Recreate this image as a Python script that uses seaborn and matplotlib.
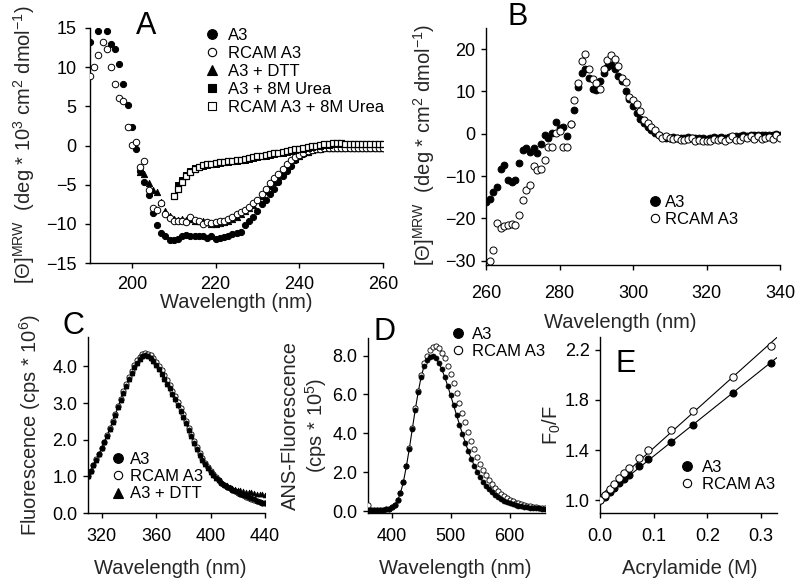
import numpy as np
import seaborn as sns
import matplotlib.pyplot as plt
from matplotlib.lines import Line2D

# ---------------- data ----------------
# A: far-UV CD, [theta]MRW in deg*10^3 cm2 dmol-1
cd_wl_a3 = [190, 192, 194] + list(range(195, 261))
cd_a3 = [13.2, 14.6, 14.6,
         12.9, 12.3, 10.4, 7.9, 5.2, 2.4, -0.4, -3.3, -4.6, -6.3,
         -8.6, -10.1, -11.2, -11.6, -12.0, -12.1, -11.9, -11.5, -11.4, -11.6,
         -11.6, -11.5, -11.6, -11.8, -11.6, -11.9, -11.8, -11.7, -11.5, -11.3,
         -11.2, -11.0, -10.2, -9.6, -9.1, -8.3, -7.5, -6.9, -6.2, -5.5,
         -4.7, -3.9, -3.2, -2.6, -1.9, -1.4, -1.1, -0.8, -0.6, -0.5,
         -0.4, -0.3, -0.3, -0.3, -0.3, -0.3, -0.3, -0.3, -0.3, -0.3,
         -0.3, -0.3, -0.3, -0.3, -0.3, -0.3]
cd_wl_rcam = list(range(190, 261))
cd_rcam = [8.9, 10.0, 11.6, 13.2, 12.3, 10.0, 7.9, 6.1, 5.7, 2.3,
           0.1, 0.5, -2.8, -2.0, -5.7, -8.0, -8.2, -7.3, -8.8, -9.3,
           -9.6, -9.7, -9.6, -9.8, -9.1, -9.5, -9.7, -10.0, -9.8, -9.9,
           -9.8, -9.7, -9.6, -9.4, -9.1, -8.8, -8.5, -8.2, -7.9, -7.4,
           -6.9, -6.2, -5.5, -4.8, -4.2, -3.6, -3.0, -2.4, -1.9, -1.5,
           -1.2, -0.9, -0.7, -0.6, -0.5, -0.4, -0.3, -0.3, -0.3, -0.3,
           -0.3, -0.3, -0.3, -0.3, -0.3, -0.3, -0.3, -0.3, -0.3, -0.3, -0.3]
cd_wl_dtt = list(range(202, 261))
cd_dtt = [-3.4, -3.7, -4.8, -5.7, -5.9, -7.2, -8.3, -9.0, -9.4, -9.5,
          -9.4, -9.5, -9.4, -9.6, -9.7, -9.7, -9.8, -10.0, -10.0, -9.9,
          -9.8, -9.6, -9.4, -9.1, -8.8, -8.4, -8.0, -7.6, -7.0, -6.4,
          -5.8, -5.2, -4.6, -4.0, -3.4, -2.8, -2.2, -1.7, -1.3, -1.0,
          -0.8, -0.6, -0.5, -0.4, -0.3, -0.3, -0.3, -0.3, -0.3, -0.3,
          -0.3, -0.3, -0.3, -0.3, -0.3, -0.3, -0.3, -0.3, -0.3]
cd_wl_urea = list(range(211, 261))
cd_urea = [-5.0, -4.4, -3.8, -3.3, -2.9, -2.7, -2.6, -2.5, -2.4, -2.3,
           -2.2, -2.15, -2.1, -2.0, -1.95, -1.9, -1.8, -1.7, -1.6, -1.5,
           -1.4, -1.3, -1.2, -1.1, -1.0, -0.9, -0.8, -0.7, -0.6, -0.5,
           -0.4, -0.3, -0.2, -0.1, 0.0, 0.1, 0.1, 0.2, 0.2, 0.2,
           0.15, 0.15, 0.15, 0.15, 0.15, 0.15, 0.15, 0.15, 0.15, 0.15]
cd_wl_rcam_urea = list(range(210, 261))
cd_rcam_urea = [-6.5, -5.5, -4.6, -3.9, -3.4, -3.0, -2.7, -2.5, -2.4, -2.3,
                -2.2, -2.1, -2.05, -2.0, -1.95, -1.9, -1.8, -1.7, -1.6, -1.5,
                -1.4, -1.3, -1.2, -1.1, -1.0, -0.9, -0.8, -0.7, -0.6, -0.5,
                -0.4, -0.3, -0.2, -0.1, 0.0, 0.1, 0.2, 0.2, 0.3, 0.3,
                0.3, 0.2, 0.2, 0.2, 0.2, 0.2, 0.2, 0.2, 0.2, 0.2, 0.2]

# B: near-UV CD
nuv_wl_a3 = list(range(260, 341))
nuv_a3 = [-16.2, -15.5, -13.7, -12.5, -8.4, -7.4, -10.9, -11.4, -10.9, -6.8,
          -3.8, -3.4, -4.2, -3.4, -4.5, -2.5, -0.3, -1.1, 0.1, 2.9,
          1.3, 1.7, -0.5, 2.4, 5.6, 11.1, 14.3, 15.2, 13.1, 10.7,
          10.3, 12.5, 14.3, 15.8, 16.2, 15.2, 13.6, 12.5, 10.2, 8.2,
          6.6, 4.9, 3.6, 2.5, 1.6, 0.9, 0.3, -0.3, -0.7, -0.9,
          -1.0, -0.8, -1.0, -1.1, -0.9, -0.8, -1.0, -1.1, -0.9, -1.0,
          -1.2, -0.9, -0.8, -1.0, -0.8, -0.9, -0.7, -0.8, -0.6, -0.5,
          -0.4, -0.5, -0.3, -0.4, -0.2, -0.3, -0.2, -0.4, -0.2, -0.1,
          -0.3]
nuv_wl_rcam = list(range(261, 341))
nuv_rcam = [-30.0, -27.5, -21.0, -22.2, -21.8, -21.5, -21.4, -21.5, -19.1, -15.7,
            -13.3, -12.2, -7.5, -8.5, -8.2, -6.3, -3.2, -3.2, 0.1, 0.7,
            -3.2, -3.0, 2.2, 8.1, 11.9, 17.2, 18.8, 15.4, 12.9, 12.1,
            10.5, 15.2, 17.4, 18.6, 17.6, 16.0, 13.3, 12.3, 8.8, 8.0,
            7.0, 5.5, 3.3, 2.6, 1.5, 0.8, -0.2, -1.0, -0.6, -1.0,
            -1.2, -1.1, -1.5, -1.4, -1.2, -1.1, -1.6, -1.4, -1.8, -1.6,
            -1.7, -1.2, -1.4, -1.3, -1.6, -1.2, -0.6, -1.4, -1.4, -0.8,
            -0.9, -0.6, -1.3, -0.5, -1.2, -1.1, -0.8, -1.2, -0.4, -1.0]

# C: intrinsic fluorescence (cps * 10^6)
fl_wl = list(range(310, 441, 2))
fl_a3 = [1.00, 1.15, 1.30, 1.45, 1.60, 1.76, 1.93, 2.10, 2.29, 2.48,
         2.68, 2.88, 3.08, 3.28, 3.47, 3.65, 3.82, 3.97, 4.10, 4.20,
         4.27, 4.30, 4.29, 4.24, 4.15, 4.04, 3.93, 3.80, 3.66, 3.53,
         3.41, 3.25, 3.10, 2.95, 2.79, 2.62, 2.45, 2.27, 2.09, 1.91,
         1.74, 1.59, 1.45, 1.33, 1.22, 1.13, 1.04, 0.96, 0.89, 0.83,
         0.77, 0.72, 0.68, 0.64, 0.60, 0.56, 0.52, 0.49, 0.46, 0.43,
         0.40, 0.37, 0.34, 0.31, 0.28, 0.26]
fl_rcam = [1.00, 1.15, 1.31, 1.46, 1.62, 1.78, 1.95, 2.13, 2.32, 2.51,
           2.71, 2.92, 3.12, 3.32, 3.52, 3.70, 3.88, 4.03, 4.16, 4.26,
           4.33, 4.36, 4.35, 4.31, 4.23, 4.13, 4.02, 3.89, 3.76, 3.62,
           3.49, 3.33, 3.18, 3.02, 2.86, 2.69, 2.51, 2.33, 2.15, 1.97,
           1.79, 1.63, 1.49, 1.36, 1.25, 1.15, 1.06, 0.97, 0.90, 0.83,
           0.77, 0.72, 0.67, 0.63, 0.59, 0.55, 0.51, 0.48, 0.45, 0.42,
           0.39, 0.36, 0.33, 0.30, 0.28, 0.26]
fl_dtt = [1.00, 1.15, 1.30, 1.45, 1.60, 1.76, 1.93, 2.10, 2.29, 2.48,
          2.68, 2.88, 3.08, 3.28, 3.47, 3.65, 3.82, 3.97, 4.10, 4.20,
          4.27, 4.30, 4.29, 4.24, 4.15, 4.04, 3.93, 3.80, 3.66, 3.53,
          3.41, 3.25, 3.10, 2.95, 2.79, 2.62, 2.45, 2.27, 2.09, 1.91,
          1.74, 1.59, 1.45, 1.33, 1.22, 1.13, 1.04, 0.96, 0.90, 0.85,
          0.80, 0.76, 0.72, 0.69, 0.66, 0.64, 0.62, 0.60, 0.58, 0.57,
          0.56, 0.55, 0.53, 0.52, 0.51, 0.50]

# D: ANS fluorescence (cps * 10^5)
ans_wl = list(range(360, 661, 5))
ans_a3 = [0.05, 0.05, 0.05, 0.05, 0.06, 0.07, 0.09, 0.13, 0.20, 0.33,
          0.55, 0.92, 1.50, 2.30, 3.20, 4.20, 5.20, 6.10, 6.90, 7.45,
          7.75, 7.92, 7.97, 7.85, 7.62, 7.30, 6.90, 6.45, 5.95, 5.45,
          4.95, 4.45, 3.98, 3.52, 3.08, 2.70, 2.34, 2.03, 1.75, 1.50,
          1.30, 1.12, 0.96, 0.83, 0.72, 0.62, 0.54, 0.47, 0.41, 0.36,
          0.32, 0.28, 0.25, 0.22, 0.20, 0.18, 0.16, 0.15, 0.14, 0.13,
          0.12]
ans_rcam = [0.30, 0.06, 0.05, 0.05, 0.06, 0.07, 0.09, 0.13, 0.20, 0.33,
            0.55, 0.92, 1.50, 2.30, 3.22, 4.25, 5.28, 6.20, 7.00, 7.60,
            8.00, 8.28, 8.44, 8.47, 8.37, 8.15, 7.85, 7.48, 7.05, 6.58,
            6.08, 5.57, 5.06, 4.56, 4.08, 3.62, 3.19, 2.80, 2.44, 2.12,
            1.84, 1.59, 1.37, 1.18, 1.02, 0.88, 0.76, 0.66, 0.57, 0.50,
            0.44, 0.39, 0.34, 0.30, 0.27, 0.24, 0.22, 0.20, 0.18, 0.17,
            0.16]

# E: acrylamide quenching (Stern-Volmer)
acr = [0.0, 0.009, 0.018, 0.027, 0.036, 0.045, 0.054, 0.072, 0.090, 0.132, 0.174, 0.248, 0.318]
sv_a3 = [1.0, 1.03, 1.065, 1.10, 1.135, 1.17, 1.205, 1.275, 1.33, 1.465, 1.60, 1.855, 2.09]
sv_rcam = [1.0, 1.045, 1.09, 1.13, 1.175, 1.215, 1.26, 1.34, 1.40, 1.56, 1.71, 1.98, 2.225]

# ---------------- style ----------------
sns.set_theme(style="ticks")
plt.rcParams['font.family'] = ['Liberation Sans', 'DejaVu Sans']
plt.rcParams.update({
    'mathtext.fontset': 'custom',
    'mathtext.rm': 'Liberation Sans',
    'mathtext.it': 'Liberation Sans:italic',
    'mathtext.default': 'regular',
    'axes.linewidth': 1.0,
    'axes.edgecolor': 'black',
    'text.color': 'black',
    'xtick.color': 'black',
    'ytick.color': 'black',
})

W, H = 800, 588
fig = plt.figure(figsize=(8, 5.88), dpi=100)


def box(l, t, r, b):
    return [l / W, 1 - b / H, (r - l) / W, (b - t) / H]


def dots(ax, x, y, marker, filled, s, lw=0.7):
    sns.scatterplot(x=x, y=y, marker=marker, s=s,
                    color='black' if filled else 'white',
                    edgecolor='black', linewidth=lw, ax=ax, legend=False, zorder=3)


def style(ax, xl, yl, xc, yc, xpad=7.5, ypad=4):
    sns.despine(ax=ax)
    ax.tick_params(direction='out', length=3.5, width=1, labelsize=13)
    ax.tick_params(axis='x', pad=xpad)
    ax.tick_params(axis='y', pad=ypad)
    ax.set_xlabel(xl, fontsize=14.5, va='center')
    ax.set_ylabel(yl, fontsize=14.5, va='center', ha='center')
    ax.xaxis.set_label_coords(xc[0] / W, 1 - xc[1] / H, transform=fig.transFigure)
    ax.yaxis.set_label_coords(yc[0] / W, 1 - yc[1] / H, transform=fig.transFigure)


def legend(ax, styles, labels, mx, my, tx, dy, fs):
    f = fs * 100 / 72
    hl = 0.8
    handles = [Line2D([], [], ls='none', marker=m, ms=ms, mfc=fc, mec='black', mew=0.8)
               for m, fc, ms in styles]
    ax.legend(handles, labels, loc='upper left',
              bbox_to_anchor=((mx - hl * f / 2) / W, 1 - (my + 3 - f / 2) / H),
              bbox_transform=fig.transFigure, frameon=False, fontsize=fs,
              handlelength=hl, handletextpad=(tx - mx - hl * f / 2) / f,
              labelspacing=(dy + 1 - f) / f, borderpad=0, borderaxespad=0)


def letter(s, x, y):
    fig.text(x / W, 1 - y / H, s, fontsize=22, ha='left', va='baseline')


ylab_cd = '[Θ]$^{MRW}$  (deg * 10$^{3}$ cm$^{2}$ dmol$^{-1}$)'
ylab_nuv = '[Θ]$^{MRW}$  (deg * cm$^{2}$ dmol$^{-1}$)'
FILL = ('o', 'black', 7)
OPEN = ('o', 'white', 6)

# ---- A ----
axA = fig.add_axes(box(90, 28, 383, 263))
dots(axA, cd_wl_a3, cd_a3, 'o', True, 20)
dots(axA, cd_wl_dtt, cd_dtt, '^', True, 20)
dots(axA, cd_wl_rcam, cd_rcam, 'o', False, 22)
dots(axA, cd_wl_urea, cd_urea, 's', True, 15)
dots(axA, cd_wl_rcam_urea, cd_rcam_urea, 's', False, 15, 0.9)
axA.set_xlim(190, 260)
axA.set_ylim(-15, 15)
axA.set_xticks([200, 220, 240, 260])
axA.set_yticks([-15, -10, -5, 0, 5, 10, 15])
style(axA, 'Wavelength (nm)', ylab_cd, (236, 303), (24, 145), xpad=6, ypad=6)
legend(axA, [FILL, OPEN, ('^', 'black', 6.5), ('s', 'black', 5.5), ('s', 'white', 5.5)],
       ['A3', 'RCAM A3', 'A3 + DTT', 'A3 + 8M Urea', 'RCAM A3 + 8M Urea'],
       212, 33, 228, 18.8, 12)
letter('A', 136, 34)

# ---- B ----
axB = fig.add_axes(box(486, 28, 780, 265))
dots(axB, nuv_wl_a3, nuv_a3, 'o', True, 24)
dots(axB, nuv_wl_rcam, nuv_rcam, 'o', False, 26)
axB.set_xlim(260, 340)
axB.set_ylim(-31, 25)
axB.set_xticks([260, 280, 300, 320, 340])
axB.set_yticks([-30, -20, -10, 0, 10, 20])
style(axB, 'Wavelength (nm)', ylab_nuv, (620, 322), (424, 145), xpad=11)
legend(axB, [FILL, OPEN], ['A3', 'RCAM A3'], 655, 200, 665, 18, 12)
letter('B', 507, 25)

# ---- C ----
axC = fig.add_axes(box(88, 337, 265, 513))
sns.lineplot(x=fl_wl, y=fl_a3, color='black', lw=0.8, ax=axC, zorder=2)
dots(axC, fl_wl, fl_rcam, 'o', False, 14, 0.6)
dots(axC, fl_wl, fl_a3, 'o', True, 13, 0.5)
dots(axC, fl_wl, fl_dtt, '^', True, 12, 0.5)
axC.set_xlim(310, 440)
axC.set_ylim(0, 4.8)
axC.set_xticks([320, 360, 400, 440])
axC.set_yticks([0, 1, 2, 3, 4])
axC.yaxis.set_major_formatter('{x:.1f}')
style(axC, 'Wavelength (nm)', 'Fluorescence (cps * 10$^{6}$)', (170, 568), (30, 425))
legend(axC, [FILL, OPEN, ('^', 'black', 6.5)], ['A3', 'RCAM A3', 'A3 + DTT'],
       118, 457, 130, 18, 12)
letter('C', 62, 334)

# ---- D ----
axD = fig.add_axes(box(368, 338, 545, 513))
sns.lineplot(x=ans_wl, y=ans_a3, color='black', lw=0.8, ax=axD, zorder=2)
dots(axD, ans_wl, ans_rcam, 'o', False, 14, 0.6)
dots(axD, ans_wl, ans_a3, 'o', True, 13, 0.5)
axD.set_xlim(360, 660)
axD.set_ylim(-0.1, 8.9)
axD.set_xticks([400, 500, 600])
axD.set_yticks([0, 2, 4, 6, 8])
axD.yaxis.set_major_formatter('{x:.1f}')
style(axD, 'Wavelength (nm)', 'ANS-Fluorescence\n(cps * 10$^{5}$)', (455, 568), (305, 425))
legend(axD, [FILL, OPEN], ['A3', 'RCAM A3'], 458, 332, 472, 18, 12)
letter('D', 373, 340)

# ---- E ----
axE = fig.add_axes(box(600, 337, 777, 513))
axE.set_xlim(0, 0.33)
axE.set_ylim(0.9, 2.3)
sns.regplot(x=acr, y=sv_a3, ci=None, scatter=False, truncate=False, ax=axE,
            line_kws=dict(color='black', lw=0.8))
sns.regplot(x=acr, y=sv_rcam, ci=None, scatter=False, truncate=False, ax=axE,
            line_kws=dict(color='black', lw=0.8))
dots(axE, acr, sv_a3, 'o', True, 26)
dots(axE, acr, sv_rcam, 'o', False, 28)
axE.set_xlim(0, 0.33)
axE.set_ylim(0.9, 2.3)
axE.set_xticks([0, 0.1, 0.2, 0.3])
axE.set_yticks([1.0, 1.4, 1.8, 2.2])
axE.xaxis.set_major_formatter('{x:.1f}')
axE.yaxis.set_major_formatter('{x:.1f}')
style(axE, 'Acrylamide (M)', 'F$_{0}$/F', (690, 568), (552, 425))
legend(axE, [FILL, OPEN], ['A3', 'RCAM A3'], 687, 465, 702, 18, 12)
letter('E', 616, 372)

fig.savefig('out.png', dpi=100)
